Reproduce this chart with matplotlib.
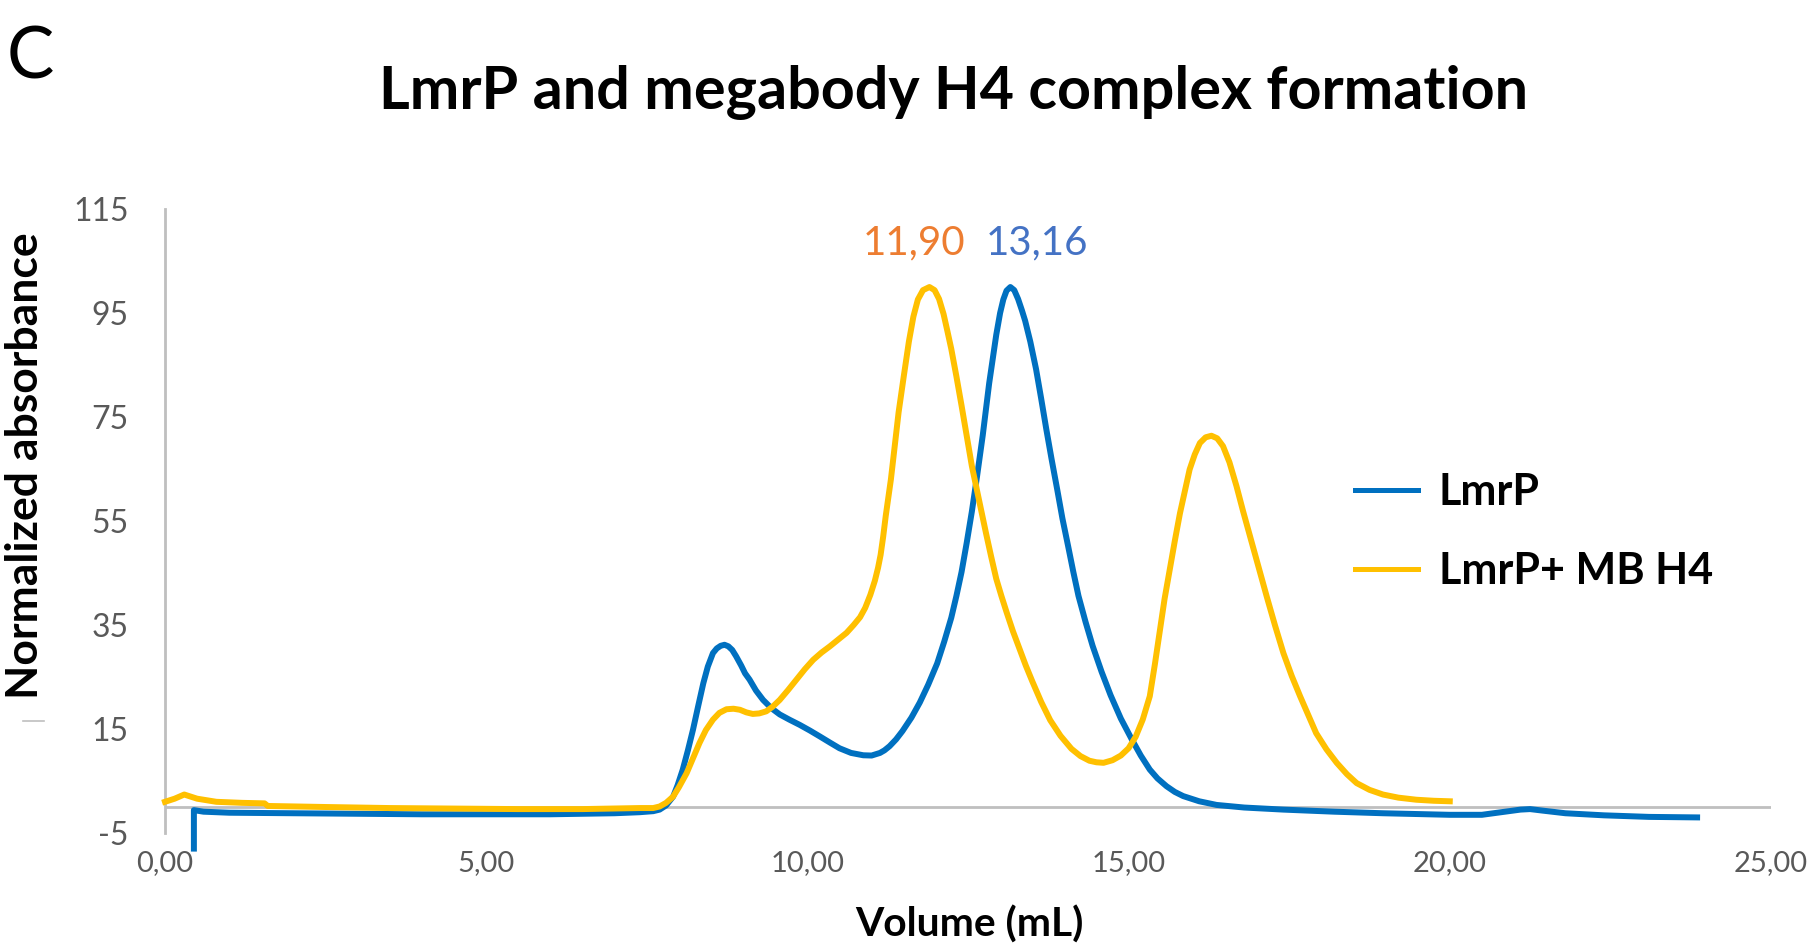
import numpy as np
import matplotlib
matplotlib.use("Agg")
import matplotlib.pyplot as plt
from matplotlib.lines import Line2D
from matplotlib.ticker import FuncFormatter

plt.rcParams['font.family'] = ['Lato', 'DejaVu Sans']
plt.rcParams['axes.unicode_minus'] = False

# LmrP alone (blue)
lmrp_x = [0.45, 0.45, 0.6, 1.0, 2.0, 3.0, 4.0, 5.0, 6.0, 7.0, 7.39, 7.6, 7.7, 7.8, 7.91,
          7.98, 8.06, 8.14, 8.22, 8.3, 8.38, 8.45, 8.53, 8.59, 8.65, 8.71, 8.77, 8.83,
          8.89, 8.97, 9.03, 9.1, 9.2, 9.31, 9.44, 9.57, 9.72, 9.88, 10.04, 10.19, 10.35,
          10.5, 10.68, 10.87, 11.0, 11.13, 11.2, 11.28, 11.38, 11.48, 11.62, 11.75, 11.88,
          12.02, 12.13, 12.24, 12.32, 12.4, 12.48, 12.56, 12.64, 12.73, 12.83, 12.94,
          13.0, 13.05, 13.1, 13.16, 13.22, 13.28, 13.34, 13.39, 13.47, 13.56, 13.64,
          13.72, 13.8, 13.89, 13.97, 14.06, 14.14, 14.22, 14.33, 14.44, 14.58, 14.72,
          14.88, 15.05, 15.19, 15.33, 15.45, 15.59, 15.72, 15.85, 16.1, 16.37, 16.8,
          17.41, 18.2, 18.96, 20.0, 20.5, 20.8, 21.1, 21.25, 21.45, 21.8, 22.4, 23.1, 23.85]
lmrp_y = [-8, -0.6, -0.9, -1.1, -1.2, -1.3, -1.4, -1.4, -1.4, -1.2, -1.0, -0.8, -0.5, 0.3, 2.0,
          4.2, 7.2, 10.9, 14.9, 19.4, 23.8, 27.0, 29.6, 30.5, 31.0, 31.2, 30.9, 30.2,
          29.0, 27.2, 25.7, 24.5, 22.4, 20.6, 19.0, 17.8, 16.8, 15.8, 14.7, 13.6, 12.4,
          11.3, 10.4, 9.95, 9.9, 10.4, 10.9, 11.7, 13.0, 14.6, 17.2, 20.1, 23.5,
          27.6, 31.8, 36.4, 40.6, 45.2, 50.8, 56.8, 63.5, 71.5, 81.5, 90.8,
          95.0, 97.6, 99.3, 100, 99.4, 97.7, 95.5, 93.5, 89.5, 84.2, 78.5,
          72.6, 67.0, 61.0, 55.5, 50.1, 45.2, 40.6, 35.6, 31.0, 26.0, 21.5,
          17.0, 13.0, 9.9, 7.2, 5.5, 4.0, 2.9, 2.1, 1.1, 0.4, -0.1,
          -0.5, -0.9, -1.2, -1.5, -1.5, -1.0, -0.5, -0.4, -0.7, -1.2, -1.6, -1.9, -2.0]

# LmrP + megabody H4 (yellow)
mb_x = [0.0, 0.15, 0.3, 0.5, 0.8, 1.2, 1.55, 1.6, 2.5, 3.5, 4.5, 5.5, 6.5, 7.39, 7.6, 7.7,
        7.8, 7.91, 8.0, 8.12, 8.22, 8.32, 8.42, 8.53, 8.63, 8.74, 8.85, 8.95, 9.05, 9.15,
        9.25, 9.36, 9.46, 9.57, 9.7, 9.83, 9.96, 10.09, 10.22, 10.35, 10.48, 10.61,
        10.72, 10.82, 10.9, 10.98, 11.05, 11.1, 11.14, 11.18, 11.22, 11.26, 11.3, 11.36,
        11.42, 11.5, 11.58, 11.65, 11.72, 11.8, 11.9, 11.98, 12.05, 12.12, 12.18, 12.24,
        12.32, 12.4, 12.48, 12.56, 12.64, 12.71, 12.78, 12.86, 12.94, 13.02, 13.1, 13.2,
        13.3, 13.4, 13.5, 13.64, 13.78, 13.94, 14.11, 14.25, 14.39, 14.5, 14.61, 14.75,
        14.88, 15.0, 15.11, 15.22, 15.33, 15.41, 15.49, 15.56, 15.64, 15.72, 15.8, 15.88,
        15.95, 16.03, 16.11, 16.2, 16.29, 16.38, 16.47, 16.57, 16.68, 16.78, 16.89, 17.02,
        17.15, 17.28, 17.41, 17.54, 17.67, 17.8, 17.92, 18.08, 18.24, 18.4, 18.55, 18.75,
        18.96, 19.2, 19.48, 19.75, 20.0]
mb_y = [1.0, 1.6, 2.4, 1.6, 1.0, 0.8, 0.7, 0.2, 0.0, -0.2, -0.3, -0.4, -0.4, -0.2, -0.2, 0.1,
        0.8, 2.0, 3.8, 6.5, 9.4, 12.3, 14.8, 16.8, 18.1, 18.8, 18.9, 18.7, 18.2, 17.9,
        18.0, 18.4, 19.3, 20.6, 22.5, 24.5, 26.5, 28.3, 29.7, 30.9, 32.2, 33.5,
        35.0, 36.5, 38.3, 40.8, 43.5, 46.0, 48.5, 52.0, 56.0, 59.5, 63.0, 69.5,
        75.9, 82.8, 89.5, 94.3, 97.6, 99.4, 100, 99.4, 97.7, 94.8, 91.5, 88.1,
        82.8, 77.2, 71.4, 65.6, 60.9, 56.7, 52.7, 48.2, 43.9, 40.6, 37.5, 33.8,
        30.5, 27.2, 24.2, 20.2, 16.7, 13.7, 11.2, 9.8, 8.9, 8.6, 8.5, 9.0,
        9.9, 11.3, 13.5, 16.8, 21.3, 27.5, 34.1, 40.0, 45.6, 51.2, 56.5, 61.0,
        64.9, 67.8, 70.0, 71.1, 71.4, 70.9, 69.4, 66.3, 61.7, 57.0, 52.1, 46.3,
        40.5, 34.9, 29.6, 25.2, 21.3, 17.6, 14.2, 11.1, 8.5, 6.3, 4.6, 3.3,
        2.4, 1.8, 1.4, 1.2, 1.1]

peak_labels = ['11,90', '13,16']
peak_pos = [11.66, 13.57]
peak_colors = ['#ED7D31', '#4472C4']

y_ticks = [-5, 15, 35, 55, 75, 95, 115]
x_ticks = [0, 5, 10, 15, 20, 25]

fig = plt.figure(figsize=(18.19, 9.48), dpi=100)
ax = fig.add_axes([0.0907, 0.1213, 0.8829, 0.6582])

ax.plot(lmrp_x, lmrp_y, color='#0070C0', lw=4.3, label='LmrP', clip_on=False,
        solid_joinstyle='round', zorder=3)
ax.plot(mb_x, mb_y, color='#FFC000', lw=4.3, label='LmrP+ MB H4', clip_on=False,
        solid_joinstyle='round', zorder=4)
ax.axhline(0, color='#BFBFBF', lw=2, zorder=1)

ax.set_xlim(0, 25)
ax.set_ylim(-5, 115)
ax.set_xticks(x_ticks)
ax.set_yticks(y_ticks)
ax.xaxis.set_major_formatter(FuncFormatter(lambda v, p: f"{v:.2f}".replace('.', ',')))
ax.tick_params(axis='y', length=0, pad=26, labelsize=23, labelcolor='#595959')
ax.tick_params(axis='x', length=0, pad=12, labelsize=21, labelcolor='#595959')
for s in ['top', 'right', 'bottom']:
    ax.spines[s].set_visible(False)
ax.spines['left'].set_color('#BFBFBF')
ax.spines['left'].set_linewidth(2)

for lab, px, c in zip(peak_labels, peak_pos, peak_colors):
    ax.text(px, 108.5, lab, color=c, fontsize=29, ha='center', va='center')

leg = ax.legend(loc='center left', bbox_to_anchor=(0.745, 0.4393),
                bbox_transform=fig.transFigure, frameon=False,
                prop={'weight': 'bold', 'size': 31}, borderpad=0, borderaxespad=0,
                handlelength=1.47, handletextpad=0.47, labelspacing=0.9)
for h in leg.get_lines():
    h.set_linewidth(3.6)

fig.text(0.524, 0.902, 'LmrP and megabody H4 complex formation', fontsize=42.7,
         fontweight='bold', ha='center', va='center')
fig.text(0.0035, 0.9393, 'C', fontsize=51, ha='left', va='center')
fig.text(0.0137, 0.509, 'Normalized absorbance', fontsize=32, fontweight='bold',
         rotation=90, ha='center', va='center')
fig.text(0.5327, 0.0248, 'Volume (mL)', fontsize=29.3, fontweight='bold',
         ha='center', va='center')
fig.add_artist(Line2D([0.0126, 0.0242], [0.2394, 0.2394], color='#BFBFBF', lw=1.2))

fig.savefig('out.png', dpi=100)
